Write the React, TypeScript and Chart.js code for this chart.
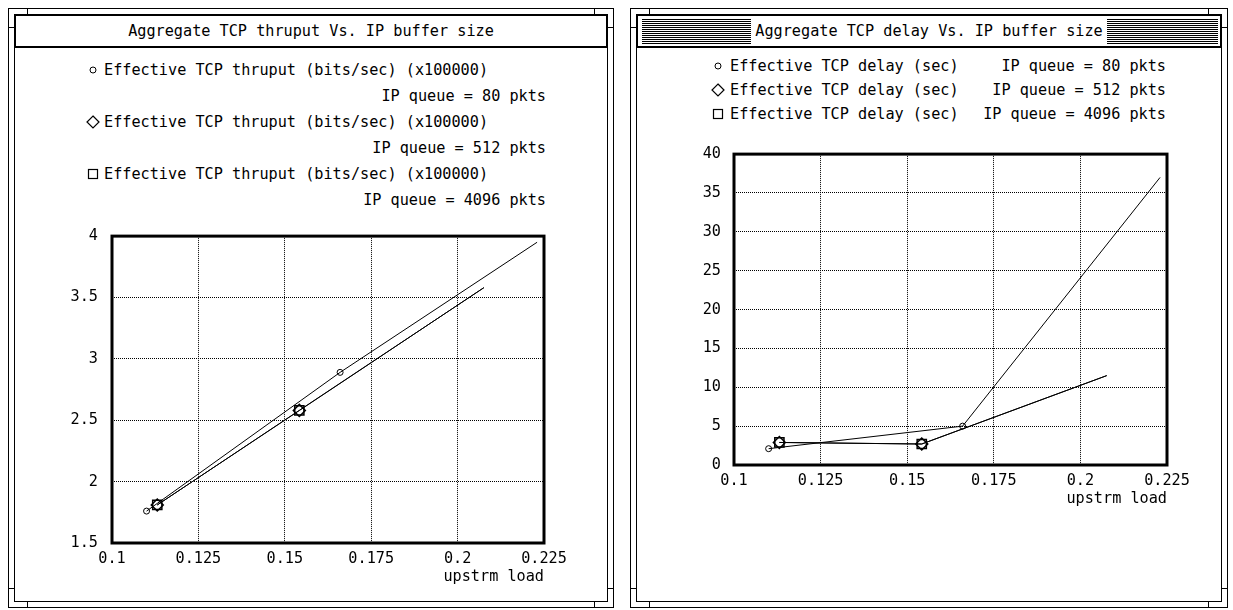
import React, { useEffect, useRef } from 'react';
import { Chart, registerables } from 'chart.js';

Chart.register(...registerables);

const FONT = "'DejaVu Sans Mono', 'Liberation Mono', monospace";
const FS = 15.2;
const CHW = FS * 0.602;

// ---------- data ----------
const xTickValues = [0.1, 0.125, 0.15, 0.175, 0.2, 0.225];
const xTickLabels = ['0.1', '0.125', '0.15', '0.175', '0.2', '0.225'];

const thruYTickValues = [1.5, 2, 2.5, 3, 3.5, 4];
const thruYTickLabels = ['1.5', '2', '2.5', '3', '3.5', '4'];

const delayYTickValues = [0, 5, 10, 15, 20, 25, 30, 35, 40];
const delayYTickLabels = ['0', '5', '10', '15', '20', '25', '30', '35', '40'];

const load80 = [0.11, 0.166, 0.223];
const load512 = [0.1131, 0.1542, 0.2076];
const load4096 = [0.1131, 0.1542, 0.2076];

const thruput80 = [1.76, 2.89, 3.95];
const thruput512 = [1.81, 2.58, 3.58];
const thruput4096 = [1.81, 2.58, 3.58];

const delay80 = [2.1, 5.0, 37.0];
const delay512 = [2.9, 2.7, 11.5];
const delay4096 = [2.9, 2.7, 11.5];

const thruTitle = 'Aggregate TCP thruput Vs. IP buffer size';
const delayTitle = 'Aggregate TCP delay Vs. IP buffer size';
const xAxisTitle = 'upstrm load';

const thruLegendNames = [
  'Effective TCP thruput (bits/sec) (x100000)',
  'Effective TCP thruput (bits/sec) (x100000)',
  'Effective TCP thruput (bits/sec) (x100000)',
];
const delayLegendNames = [
  'Effective TCP delay (sec)',
  'Effective TCP delay (sec)',
  'Effective TCP delay (sec)',
];
const queueLabels = ['IP queue = 80 pkts', 'IP queue = 512 pkts', 'IP queue = 4096 pkts'];

// ---------- chart ----------
const PAD_L = 70;
const PAD_T = 14;
const PAD_R = 30;
const PAD_B = 50;

const framePlugin = {
  id: 'plotFrame',
  afterDraw(chart: any) {
    const { ctx, chartArea } = chart;
    ctx.save();
    ctx.strokeStyle = '#000';
    ctx.lineWidth = 3;
    ctx.strokeRect(
      chartArea.left,
      chartArea.top,
      chartArea.right - chartArea.left,
      chartArea.bottom - chartArea.top
    );
    ctx.restore();
  },
};

type Series = { x: number[]; y: number[]; style: string; radius: number; bw: number };

function lookup(values: number[], labels: string[], v: number) {
  const i = values.findIndex((t) => Math.abs(t - v) < 1e-9);
  return i >= 0 ? labels[i] : '';
}

function Plot(props: {
  boxLeft: number;
  boxTop: number;
  boxW: number;
  boxH: number;
  yValues: number[];
  yLabels: string[];
  series: Series[];
  yPad: number;
}) {
  const ref = useRef<HTMLCanvasElement>(null);
  const { boxLeft, boxTop, boxW, boxH, yValues, yLabels, series, yPad } = props;
  const cw = PAD_L + boxW + PAD_R;
  const ch = PAD_T + boxH + PAD_B;
  useEffect(() => {
    if (!ref.current) return;
    const font = { family: FONT, size: FS };
    const chart = new Chart(ref.current, {
      type: 'scatter',
      data: {
        datasets: series.map((s) => ({
          data: s.x.map((x, i) => ({ x, y: s.y[i] })),
          showLine: true,
          borderColor: '#000',
          borderWidth: 1,
          tension: 0,
          pointStyle: s.style as any,
          pointRadius: s.x.map((_, i) => (i === s.x.length - 1 ? 0 : s.radius)),
          pointBorderWidth: s.bw,
          pointBorderColor: '#000',
          pointBackgroundColor: 'rgba(0,0,0,0)',
        })),
      },
      options: {
        responsive: false,
        animation: false,
        devicePixelRatio: 1,
        events: [],
        layout: { padding: { left: 0, top: PAD_T, right: PAD_R, bottom: 0 } },
        plugins: { legend: { display: false }, tooltip: { enabled: false } },
        scales: {
          x: {
            type: 'linear',
            min: xTickValues[0],
            max: xTickValues[xTickValues.length - 1],
            afterBuildTicks: (s: any) => {
              s.ticks = xTickValues.map((v) => ({ value: v }));
            },
            afterFit: (s: any) => {
              s.height = PAD_B;
            },
            ticks: {
              color: '#000',
              font,
              padding: 7,
              maxRotation: 0,
              autoSkip: false,
              callback: (v: any) => lookup(xTickValues, xTickLabels, Number(v)),
            },
            grid: { color: '#000', lineWidth: 1, drawTicks: false },
            border: { display: false, dash: [1, 1] },
            title: {
              display: true,
              text: xAxisTitle,
              align: 'end',
              color: '#000',
              font,
              padding: { top: 0, bottom: 7 },
            },
          },
          y: {
            type: 'linear',
            min: yValues[0],
            max: yValues[yValues.length - 1],
            afterBuildTicks: (s: any) => {
              s.ticks = yValues.map((v) => ({ value: v }));
            },
            afterFit: (s: any) => {
              s.width = PAD_L;
            },
            ticks: {
              color: '#000',
              font,
              padding: yPad,
              autoSkip: false,
              callback: (v: any) => lookup(yValues, yLabels, Number(v)),
            },
            grid: { color: '#000', lineWidth: 1, drawTicks: false },
            border: { display: false, dash: [1, 1] },
          },
        },
      } as any,
      plugins: [framePlugin],
    });
    return () => chart.destroy();
  }, []);
  return (
    <canvas
      ref={ref}
      width={cw}
      height={ch}
      style={{
        position: 'absolute',
        left: boxLeft - PAD_L,
        top: boxTop - PAD_T,
        width: cw,
        height: ch,
      }}
    />
  );
}

// ---------- chrome ----------
const textStyle: React.CSSProperties = {
  position: 'absolute',
  fontFamily: FONT,
  fontSize: FS,
  lineHeight: '18px',
  height: 18,
  whiteSpace: 'pre',
  color: '#000',
};

function Line(props: { x1: number; y1: number; x2: number; y2: number }) {
  const { x1, y1, x2, y2 } = props;
  return (
    <div
      style={{
        position: 'absolute',
        left: Math.min(x1, x2),
        top: Math.min(y1, y2),
        width: Math.max(1, Math.abs(x2 - x1)),
        height: Math.max(1, Math.abs(y2 - y1)),
        background: '#000',
      }}
    />
  );
}

function WindowFrame(props: {
  l: number;
  t: number;
  r: number;
  b: number;
  title: string;
  striped: boolean;
}) {
  const { l, t, r, b, title, striped } = props;
  const inset = 6;
  const il = l + inset;
  const it = t + inset;
  const ir = r - inset;
  const ib = b - inset;
  const tbH = 34;
  const mid = (il + ir) / 2;
  const textW = title.length * CHW;
  const stripe: React.CSSProperties = {
    position: 'absolute',
    top: it + 5,
    height: tbH - 9,
    backgroundImage: 'repeating-linear-gradient(to bottom, #000 0px, #000 1px, #fff 1px, #fff 2px)',
  };
  return (
    <>
      <div
        style={{
          position: 'absolute',
          left: l,
          top: t,
          width: r - l,
          height: b - t,
          border: '1px solid #000',
          boxSizing: 'border-box',
        }}
      />
      <div
        style={{
          position: 'absolute',
          left: il,
          top: it,
          width: ir - il,
          height: ib - it,
          border: '1px solid #000',
          boxSizing: 'border-box',
        }}
      />
      {/* resize corner ticks */}
      <Line x1={l + 19} y1={t} x2={l + 20} y2={it} />
      <Line x1={r - 20} y1={t} x2={r - 19} y2={it} />
      <Line x1={l + 19} y1={ib} x2={l + 20} y2={b} />
      <Line x1={r - 20} y1={ib} x2={r - 19} y2={b} />
      <Line x1={l} y1={t + 19} x2={il} y2={t + 20} />
      <Line x1={ir} y1={t + 19} x2={r} y2={t + 20} />
      <Line x1={l} y1={b - 20} x2={il} y2={b - 19} />
      <Line x1={ir} y1={b - 20} x2={r} y2={b - 19} />
      {/* title bar */}
      <div
        style={{
          position: 'absolute',
          left: il,
          top: it,
          width: ir - il,
          height: tbH,
          border: '2px solid #000',
          boxSizing: 'border-box',
        }}
      />
      {striped && (
        <>
          <div style={{ ...stripe, left: il + 6, width: mid - textW / 2 - 4 - (il + 6) }} />
          <div style={{ ...stripe, left: mid + textW / 2 + 4, width: ir - 4 - (mid + textW / 2 + 4) }} />
        </>
      )}
      <div style={{ ...textStyle, left: il, width: ir - il, top: it + tbH / 2 - 9, textAlign: 'center' }}>
        {title}
      </div>
    </>
  );
}

function Marker(props: { kind: string; cx: number; cy: number }) {
  const { kind, cx, cy } = props;
  const s = 16;
  let shape: React.ReactNode = null;
  if (kind === 'circle') shape = <circle cx={8} cy={8} r={3} fill="none" stroke="#000" strokeWidth={1} />;
  if (kind === 'diamond')
    shape = <polygon points="8,2 14,8 8,14 2,8" fill="none" stroke="#000" strokeWidth={1.2} />;
  if (kind === 'square') shape = <rect x={3.5} y={3.5} width={9} height={9} fill="none" stroke="#000" strokeWidth={1.2} />;
  return (
    <svg width={s} height={s} style={{ position: 'absolute', left: cx - 8, top: cy - 8 }}>
      {shape}
    </svg>
  );
}

const markerKinds = ['circle', 'diamond', 'square'];

export default function App() {
  const thruSeries: Series[] = [
    { x: load80, y: thruput80, style: 'circle', radius: 3, bw: 1 },
    { x: load512, y: thruput512, style: 'rectRot', radius: 6, bw: 1.5 },
    { x: load4096, y: thruput4096, style: 'rect', radius: 6.5, bw: 1.5 },
  ];
  const delaySeries: Series[] = [
    { x: load80, y: delay80, style: 'circle', radius: 3, bw: 1 },
    { x: load512, y: delay512, style: 'rectRot', radius: 6, bw: 1.5 },
    { x: load4096, y: delay4096, style: 'rect', radius: 6.5, bw: 1.5 },
  ];
  const leftRows = [70, 96, 122, 148, 174, 200];
  const rightRows = [66, 90, 114];
  return (
    <div
      style={{
        position: 'fixed',
        left: 0,
        top: 0,
        width: 1233,
        height: 610,
        background: '#fff',
        overflow: 'hidden',
      }}
    >
      <WindowFrame l={8} t={8} r={614} b={608} title={thruTitle} striped={false} />
      <WindowFrame l={630} t={8} r={1228} b={608} title={delayTitle} striped={true} />

      {/* left legend */}
      {thruLegendNames.map((name, i) => (
        <React.Fragment key={'l' + i}>
          <Marker kind={markerKinds[i]} cx={93} cy={leftRows[i * 2]} />
          <div style={{ ...textStyle, left: 104, top: leftRows[i * 2] - 9 }}>{name}</div>
          <div style={{ ...textStyle, left: 0, width: 546, textAlign: 'right', top: leftRows[i * 2 + 1] - 9 }}>
            {queueLabels[i]}
          </div>
        </React.Fragment>
      ))}

      {/* right legend */}
      {delayLegendNames.map((name, i) => (
        <React.Fragment key={'r' + i}>
          <Marker kind={markerKinds[i]} cx={718} cy={rightRows[i]} />
          <div style={{ ...textStyle, left: 730, top: rightRows[i] - 9 }}>{name}</div>
          <div style={{ ...textStyle, left: 900, width: 266, textAlign: 'right', top: rightRows[i] - 9 }}>
            {queueLabels[i]}
          </div>
        </React.Fragment>
      ))}

      <Plot
        boxLeft={112}
        boxTop={227}
        boxW={432}
        boxH={316}
        yValues={thruYTickValues}
        yLabels={thruYTickLabels}
        series={thruSeries}
        yPad={14}
      />
      <Plot
        boxLeft={734}
        boxTop={146}
        boxW={433}
        boxH={319}
        yValues={delayYTickValues}
        yLabels={delayYTickLabels}
        series={delaySeries}
        yPad={13}
      />
    </div>
  );
}
